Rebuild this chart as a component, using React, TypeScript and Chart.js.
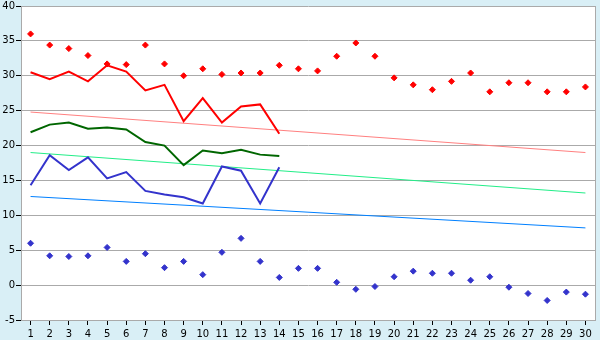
import React, { useEffect, useRef } from "react";
import { Chart, registerables } from "chart.js";

Chart.register(...registerables);

const days = Array.from({ length: 30 }, (_, i) => String(i + 1));

const maxPoints = [36.0, 34.4, 33.9, 32.9, 31.7, 31.6, 34.4, 31.7, 30.0, 31.0, 30.2, 30.4, 30.4, 31.5, 31.0, 30.7, 32.8, 34.7, 32.8, 29.7, 28.7, 28.0, 29.2, 30.4, 27.7, 29.0, 29.0, 27.7, 27.7, 28.4];
const minPoints = [6.0, 4.2, 4.1, 4.2, 5.4, 3.4, 4.5, 2.5, 3.4, 1.5, 4.7, 6.7, 3.4, 1.1, 2.4, 2.4, 0.4, -0.6, -0.2, 1.2, 2.0, 1.7, 1.7, 0.7, 1.2, -0.3, -1.2, -2.2, -1.0, -1.3];
const maxLine = [30.5, 29.5, 30.6, 29.2, 31.5, 30.6, 27.9, 28.7, 23.5, 26.8, 23.3, 25.6, 25.9, 21.7];
const meanLine = [21.9, 23.0, 23.3, 22.4, 22.6, 22.3, 20.5, 20.0, 17.2, 19.3, 18.9, 19.4, 18.7, 18.5];
const minLine = [14.3, 18.6, 16.5, 18.3, 15.3, 16.2, 13.5, 13.0, 12.6, 11.7, 17.0, 16.4, 11.7, 16.9];
const maxTrend = [24.8, 19.0];
const meanTrend = [19.0, 13.2];
const minTrend = [12.7, 8.2];
const yTicks = [-5, 0, 5, 10, 15, 20, 25, 30, 35, 40];

const trendData = (ends: number[]) =>
  days.map((_, i) => (i === 0 ? ends[0] : i === days.length - 1 ? ends[1] : null));

export default function App() {
  const ref = useRef<HTMLCanvasElement | null>(null);
  useEffect(() => {
    document.body.style.margin = "0";
    const bgPlugin = {
      id: "bg",
      beforeDraw(chart: any) {
        const { ctx, chartArea: a } = chart;
        ctx.save();
        ctx.fillStyle = "#d9eff6";
        ctx.fillRect(0, 0, chart.width, chart.height);
        ctx.fillStyle = "#ffffff";
        ctx.fillRect(a.left, a.top, a.right - a.left, a.bottom - a.top);
        ctx.restore();
      },
      afterDatasetsDraw(chart: any) {
        const { ctx, chartArea: a } = chart;
        ctx.save();
        ctx.strokeStyle = "#aaaaaa";
        ctx.lineWidth = 1;
        ctx.beginPath();
        ctx.moveTo(a.right + 0.5, a.top);
        ctx.lineTo(a.right + 0.5, a.bottom);
        ctx.stroke();
        ctx.restore();
      },
    };
    const font = { family: "DejaVu Sans", size: 10, lineHeight: 1 };
    const chart = new Chart(ref.current!, {
      type: "line",
      data: {
        labels: days,
        datasets: [
          { data: maxPoints, showLine: false, pointStyle: "rectRot", pointRadius: 3, backgroundColor: "#ff0000", borderColor: "#ff0000", borderWidth: 1 },
          { data: minPoints, showLine: false, pointStyle: "rectRot", pointRadius: 3, backgroundColor: "#3333cc", borderColor: "#3333cc", borderWidth: 1 },
          { data: maxLine, borderColor: "#ff0000", borderWidth: 2, pointRadius: 0, tension: 0 },
          { data: meanLine, borderColor: "#006600", borderWidth: 2, pointRadius: 0, tension: 0 },
          { data: minLine, borderColor: "#3333cc", borderWidth: 2, pointRadius: 0, tension: 0 },
          { data: trendData(maxTrend), borderColor: "#ff8080", borderWidth: 1, pointRadius: 0, spanGaps: true },
          { data: trendData(meanTrend), borderColor: "#22ee88", borderWidth: 1, pointRadius: 0, spanGaps: true },
          { data: trendData(minTrend), borderColor: "#0080ff", borderWidth: 1, pointRadius: 0, spanGaps: true },
        ],
      },
      options: {
        responsive: false,
        animation: false,
        layout: { padding: { top: 5, right: 5, left: 0, bottom: 0 } },
        plugins: { legend: { display: false }, tooltip: { enabled: false } },
        scales: {
          x: {
            offset: true,
            grid: { drawOnChartArea: false, drawTicks: true, tickLength: 5, tickColor: "#000000", offset: false },
            border: { color: "#aaaaaa" },
            ticks: { font, color: "#000000", padding: 4, autoSkip: false, maxRotation: 0 },
            afterFit: (s: any) => { s.height = 20; },
          },
          y: {
            min: -5,
            max: 40,
            afterBuildTicks: (s: any) => { s.ticks = yTicks.map((v) => ({ value: v })); },
            grid: { color: "#aaaaaa", tickColor: "#000000", tickLength: 5 },
            border: { color: "#aaaaaa" },
            ticks: { font, color: "#000000", padding: 1 },
            afterFit: (s: any) => { s.width = 21; },
          },
        },
      },
      plugins: [bgPlugin],
    });
    return () => chart.destroy();
  }, []);
  return <canvas ref={ref} width={600} height={340} style={{ display: "block" }} />;
}
